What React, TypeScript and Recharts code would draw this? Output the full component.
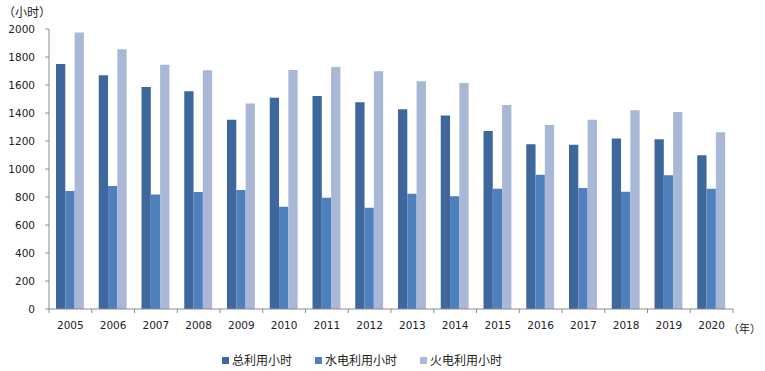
import React from 'react';
import { BarChart, Bar, XAxis, YAxis } from 'recharts';

const years = ['2005', '2006', '2007', '2008', '2009', '2010', '2011', '2012', '2013', '2014', '2015', '2016', '2017', '2018', '2019', '2020'];
const totalHours = [1750, 1670, 1585, 1555, 1352, 1509, 1521, 1476, 1426, 1383, 1271, 1176, 1174, 1217, 1212, 1098];
const hydroHours = [843, 879, 817, 836, 850, 731, 795, 724, 824, 805, 859, 959, 864, 838, 955, 859];
const thermalHours = [1975, 1855, 1745, 1705, 1467, 1707, 1729, 1698, 1626, 1614, 1457, 1314, 1352, 1419, 1407, 1262];
const yTicks = [0, 200, 400, 600, 800, 1000, 1200, 1400, 1600, 1800, 2000];

const seriesNames = ['总利用小时', '水电利用小时', '火电利用小时'];
const colors = ['#3E679C', '#4F7FBC', '#A8B8D6'];

const data = years.map((year, i) => ({
  year,
  total: totalHours[i],
  hydro: hydroHours[i],
  thermal: thermalHours[i],
}));

const W = 765;
const H = 371;
const M = { top: 29, right: 32, left: 0, bottom: 32 };
const Y_WIDTH = 49;
const band = (W - M.left - M.right - Y_WIDTH) / years.length;

const numFont = '"DejaVu Sans", sans-serif';
const cjkFont = '"Noto Sans CJK SC", sans-serif';

// x tick: label at the centre, tick mark at the category boundary
const XTick = (props: any) => {
  const { x, y, payload, index } = props;
  const last = index === years.length - 1;
  return (
    <g>
      <line x1={x - band / 2} x2={x - band / 2} y1={y - 8} y2={y - 4} stroke="#8c8c8c" />
      {last && <line x1={x + band / 2} x2={x + band / 2} y1={y - 8} y2={y - 4} stroke="#8c8c8c" />}
      <text x={x} y={y + 12} textAnchor="middle" fontSize={10.5} fontFamily={numFont} fill="#222">
        {payload.value}
      </text>
    </g>
  );
};

const LegendBox = () => (
  <div
    style={{
      position: 'absolute', top: 351, left: 222, width: W - 222,
      display: 'flex', gap: 23,
      fontFamily: cjkFont, fontSize: 12, lineHeight: '18px', color: '#222',
    }}
  >
    {seriesNames.map((name, i) => (
      <span key={name} style={{ display: 'flex', alignItems: 'center' }}>
        <span style={{ display: 'inline-block', width: 7, height: 7, background: colors[i], marginRight: 3 }} />
        {name}
      </span>
    ))}
  </div>
);

export default function App() {
  return (
    <div style={{ position: 'absolute', top: 0, left: 0, width: W, height: H, background: '#fff' }}>
      <BarChart width={W} height={H} data={data} margin={M} barGap={0} barSize={9.3}>
        <XAxis
          dataKey="year"
          stroke="#8c8c8c"
          tickLine={false}
          height={30}
          tick={<XTick />}
          interval={0}
        />
        <YAxis
          domain={[0, 2000]}
          ticks={yTicks}
          width={Y_WIDTH}
          stroke="#8c8c8c"
          tickSize={4}
          tickMargin={10}
          tick={{ fontSize: 10.5, fontFamily: numFont, fill: '#222' }}
          interval={0}
        />
        <Bar dataKey="total" name={seriesNames[0]} fill={colors[0]} isAnimationActive={false} />
        <Bar dataKey="hydro" name={seriesNames[1]} fill={colors[1]} isAnimationActive={false} />
        <Bar dataKey="thermal" name={seriesNames[2]} fill={colors[2]} isAnimationActive={false} />
        <text x={3} y={17} fontSize={12} fontFamily={cjkFont} fill="#222">（小时）</text>
        <text x={728} y={333} fontSize={11} fontFamily={cjkFont} fill="#222">（年）</text>
      </BarChart>
      <LegendBox />
    </div>
  );
}
